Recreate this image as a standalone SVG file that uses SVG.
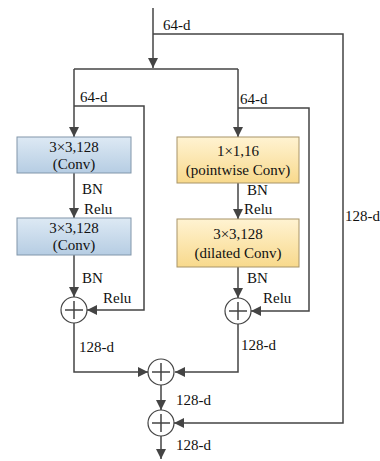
<svg xmlns="http://www.w3.org/2000/svg" width="380" height="461" viewBox="0 0 380 461">
<defs>
<linearGradient id="gb" x1="0" y1="0" x2="0" y2="1"><stop offset="0" stop-color="#dde9f4"/><stop offset="1" stop-color="#b6cde3"/></linearGradient>
<linearGradient id="gy" x1="0" y1="0" x2="0" y2="1"><stop offset="0" stop-color="#fff3d2"/><stop offset="1" stop-color="#f8d98c"/></linearGradient>
<marker id="ah" viewBox="0 0 10 10" refX="10" refY="5" markerWidth="10" markerHeight="10" markerUnits="userSpaceOnUse" orient="auto"><path d="M0,0 L10,5 L0,10 z" fill="#444"/></marker>
</defs>
<style>
.ln{fill:none;stroke:#444;stroke-width:1.5}
.t{font-family:"Liberation Serif","Times New Roman",serif;font-size:15px;fill:#111}
.c{text-anchor:middle}
.bb{fill:url(#gb);stroke:#8196aa;stroke-width:1}
.by{fill:url(#gy);stroke:#a89468;stroke-width:1}
.cir{fill:#fff;stroke:#444;stroke-width:1.2}
</style>
<rect width="380" height="461" fill="#fff"/>
<g id="connectors">
<path class="ln" d="M153,8 V68" marker-end="url(#ah)"/>
<path class="ln" d="M153,34 H343 V423 H174" marker-end="url(#ah)"/>
<path class="ln" d="M74,69 H238"/>
<path class="ln" d="M74,69 V137" marker-end="url(#ah)"/>
<path class="ln" d="M238,69 V137" marker-end="url(#ah)"/>
<path class="ln" d="M74,106 H144 V310 H87" marker-end="url(#ah)"/>
<path class="ln" d="M238,108 H309 V311 H251" marker-end="url(#ah)"/>
<path class="ln" d="M74,173 V218" marker-end="url(#ah)"/>
<path class="ln" d="M74,255 V297" marker-end="url(#ah)"/>
<path class="ln" d="M238,183 V219" marker-end="url(#ah)"/>
<path class="ln" d="M238,267 V298" marker-end="url(#ah)"/>
<path class="ln" d="M74,323 V372 H148" marker-end="url(#ah)"/>
<path class="ln" d="M238,324 V372 H175" marker-end="url(#ah)"/>
<path class="ln" d="M161,385 V410" marker-end="url(#ah)"/>
<path class="ln" d="M161,436 V459" marker-end="url(#ah)"/>
</g>
<g id="labels">
<text class="t" x="163" y="30">64-d</text>
<text class="t" x="80" y="102">64-d</text>
<text class="t" x="240" y="104">64-d</text>
<text class="t" x="345" y="221">128-d</text>
<text class="t" x="82" y="194">BN</text>
<text class="t" x="84" y="214">Relu</text>
<text class="t" x="82" y="283">BN</text>
<text class="t" x="103" y="303">Relu</text>
<text class="t" x="247" y="195">BN</text>
<text class="t" x="244" y="214">Relu</text>
<text class="t" x="247" y="283">BN</text>
<text class="t" x="263" y="303">Relu</text>
<text class="t" x="79" y="352">128-d</text>
<text class="t" x="241" y="350">128-d</text>
<text class="t" x="176" y="405">128-d</text>
<text class="t" x="176" y="450">128-d</text>
</g>
<g id="box1"><rect class="bb" x="17" y="137" width="114" height="36"/><text class="t c" x="74" y="152">3×3,128</text><text class="t c" x="74" y="169">(Conv)</text></g>
<g id="box2"><rect class="bb" x="17" y="218" width="114" height="37"/><text class="t c" x="74" y="233">3×3,128</text><text class="t c" x="74" y="250">(Conv)</text></g>
<g id="box3"><rect class="by" x="177" y="137" width="122" height="46"/><text class="t c" x="238" y="156">1×1,16</text><text class="t c" x="238" y="175">(pointwise Conv)</text></g>
<g id="box4"><rect class="by" x="177" y="219" width="122" height="48"/><text class="t c" x="238" y="239">3×3,128</text><text class="t c" x="238" y="258">(dilated Conv)</text></g>
<g id="sum1"><circle class="cir" cx="74" cy="310" r="13"/><path class="ln" d="M65,310 H83 M74,301 V319" stroke-width="1.2"/></g>
<g id="sum2"><circle class="cir" cx="238" cy="311" r="13"/><path class="ln" d="M229,311 H247 M238,302 V320" stroke-width="1.2"/></g>
<g id="sum3"><circle class="cir" cx="161" cy="372" r="13"/><path class="ln" d="M152,372 H170 M161,363 V381" stroke-width="1.2"/></g>
<g id="sum4"><circle class="cir" cx="161" cy="423" r="13"/><path class="ln" d="M152,423 H170 M161,414 V432" stroke-width="1.2"/></g>
</svg>
